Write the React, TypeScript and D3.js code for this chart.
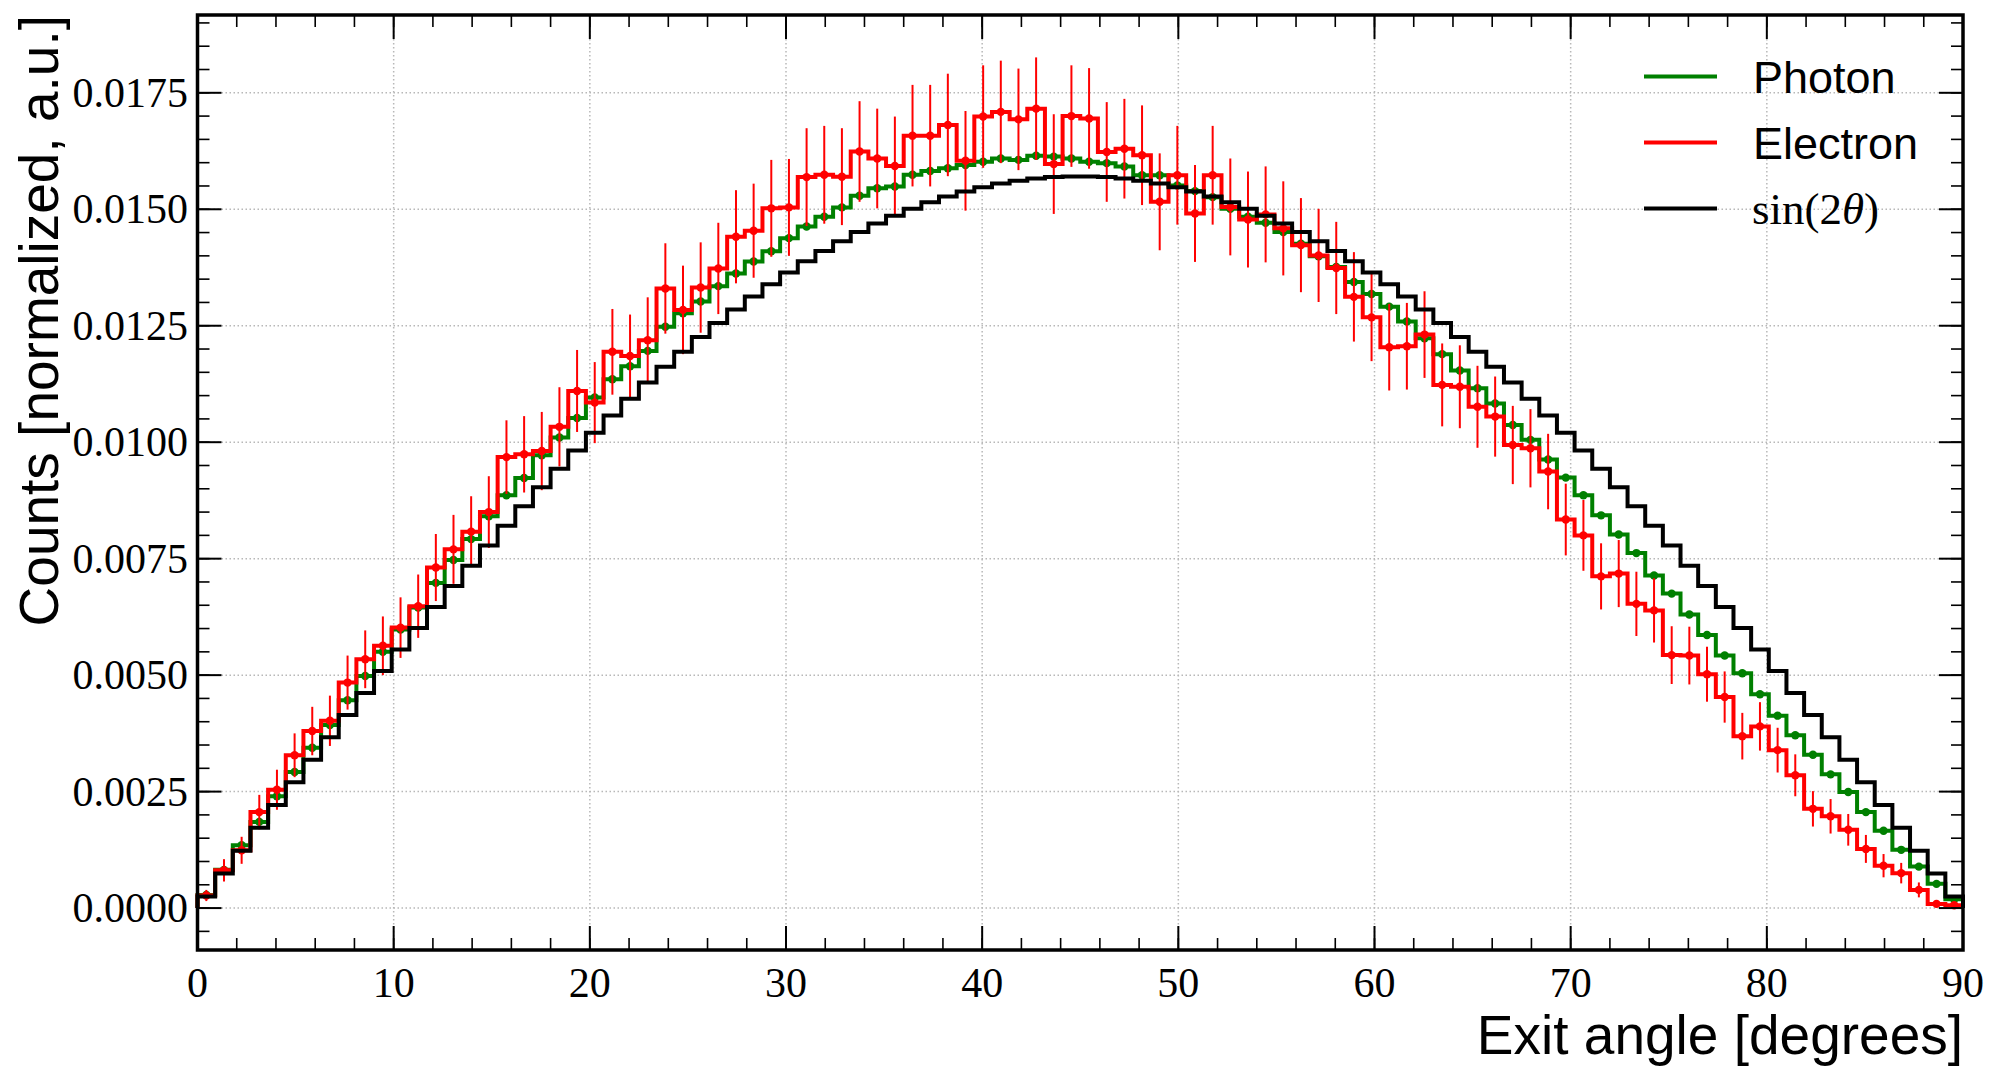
import { useEffect, useRef } from 'react';
import * as d3 from 'd3';

const WIDTH = 2000;
const HEIGHT = 1080;

// 100 bins of 0.9 degrees between 0 and 90
const binEdges = d3.range(101).map(i => +(i * 0.9).toFixed(2));

const photon = [
  0.00028, 0.00082, 0.00135, 0.00185, 0.00240, 0.00292, 0.00344, 0.00393, 0.00446, 0.00498,
  0.00550, 0.00598, 0.00645, 0.00698, 0.00747, 0.00792, 0.00841, 0.00886, 0.00923, 0.00972,
  0.01010, 0.01052, 0.01096, 0.01135, 0.01163, 0.01196, 0.01248, 0.01277, 0.01302, 0.01335,
  0.01362, 0.01388, 0.01410, 0.01438, 0.01463, 0.01484, 0.01504, 0.01529, 0.01545, 0.01549,
  0.01574, 0.01582, 0.01588, 0.01595, 0.01602, 0.01609, 0.01606, 0.01615, 0.01613, 0.01609,
  0.01602, 0.01599, 0.01592, 0.01573, 0.01573, 0.01551, 0.01539, 0.01526, 0.01501, 0.01484,
  0.01471, 0.01451, 0.01426, 0.01399, 0.01376, 0.01344, 0.01318, 0.01291, 0.01259, 0.01223,
  0.01189, 0.01154, 0.01116, 0.01083, 0.01037, 0.01005, 0.00963, 0.00924, 0.00886, 0.00843,
  0.00802, 0.00762, 0.00714, 0.00675, 0.00630, 0.00586, 0.00542, 0.00504, 0.00459, 0.00413,
  0.00371, 0.00329, 0.00287, 0.00249, 0.00206, 0.00166, 0.00125, 0.00089, 0.00052, 0.00019,
];

const electron = [
  0.00027, 0.00081, 0.00124, 0.00206, 0.00254, 0.00328, 0.00380, 0.00402, 0.00484, 0.00534,
  0.00563, 0.00602, 0.00648, 0.00731, 0.00770, 0.00808, 0.00850, 0.00968, 0.00974, 0.00981,
  0.01033, 0.01110, 0.01085, 0.01194, 0.01185, 0.01219, 0.01330, 0.01284, 0.01332, 0.01373,
  0.01441, 0.01454, 0.01502, 0.01504, 0.01569, 0.01574, 0.01570, 0.01624, 0.01609, 0.01593,
  0.01658, 0.01658, 0.01681, 0.01604, 0.01699, 0.01709, 0.01693, 0.01716, 0.01597, 0.01700,
  0.01695, 0.01623, 0.01630, 0.01616, 0.01516, 0.01573, 0.01491, 0.01573, 0.01505, 0.01478,
  0.01489, 0.01459, 0.01423, 0.01401, 0.01374, 0.01312, 0.01268, 0.01204, 0.01206, 0.01231,
  0.01123, 0.01119, 0.01076, 0.01055, 0.00994, 0.00987, 0.00937, 0.00834, 0.00800, 0.00712,
  0.00718, 0.00653, 0.00639, 0.00543, 0.00542, 0.00502, 0.00453, 0.00369, 0.00390, 0.00339,
  0.00285, 0.00213, 0.00197, 0.00168, 0.00127, 0.00091, 0.00075, 0.00039, 0.00009, 0.00006,
];

const electronErr = [
  0.00012, 0.00024, 0.00029, 0.00037, 0.00043, 0.00047, 0.00052, 0.00054, 0.00058, 0.00062,
  0.00063, 0.00065, 0.00068, 0.00072, 0.00074, 0.00076, 0.00077, 0.00079, 0.00082, 0.00084,
  0.00085, 0.00088, 0.00087, 0.00092, 0.00089, 0.00092, 0.00097, 0.00095, 0.00097, 0.00098,
  0.00100, 0.00101, 0.00104, 0.00104, 0.00105, 0.00105, 0.00104, 0.00108, 0.00107, 0.00106,
  0.00109, 0.00109, 0.00110, 0.00107, 0.00110, 0.00110, 0.00109, 0.00110, 0.00107, 0.00109,
  0.00108, 0.00107, 0.00107, 0.00107, 0.00104, 0.00106, 0.00104, 0.00106, 0.00104, 0.00103,
  0.00103, 0.00101, 0.00101, 0.00100, 0.00099, 0.00096, 0.00094, 0.00093, 0.00093, 0.00093,
  0.00089, 0.00089, 0.00088, 0.00086, 0.00084, 0.00084, 0.00081, 0.00077, 0.00076, 0.00071,
  0.00072, 0.00069, 0.00069, 0.00062, 0.00062, 0.00059, 0.00055, 0.00050, 0.00052, 0.00048,
  0.00045, 0.00038, 0.00037, 0.00034, 0.00030, 0.00025, 0.00022, 0.00016, 0.00007, 0.00005,
];

const sin2theta = [
  0.000247, 0.000740, 0.001232, 0.001724, 0.002213, 0.002701, 0.003185, 0.003667, 0.004145, 0.004619,
  0.005088, 0.005552, 0.006011, 0.006464, 0.006911, 0.007350, 0.007783, 0.008207, 0.008624, 0.009032,
  0.009431, 0.009821, 0.010202, 0.010572, 0.010931, 0.011280, 0.011618, 0.011944, 0.012259, 0.012561,
  0.012851, 0.013129, 0.013393, 0.013644, 0.013882, 0.014106, 0.014316, 0.014512, 0.014694, 0.014861,
  0.015013, 0.015151, 0.015274, 0.015382, 0.015474, 0.015551, 0.015613, 0.015660, 0.015691, 0.015706,
  0.015706, 0.015691, 0.015660, 0.015613, 0.015551, 0.015474, 0.015382, 0.015274, 0.015151, 0.015013,
  0.014861, 0.014694, 0.014512, 0.014316, 0.014106, 0.013882, 0.013644, 0.013393, 0.013129, 0.012851,
  0.012561, 0.012259, 0.011944, 0.011618, 0.011280, 0.010931, 0.010572, 0.010202, 0.009821, 0.009431,
  0.009032, 0.008624, 0.008207, 0.007783, 0.007350, 0.006911, 0.006464, 0.006011, 0.005552, 0.005088,
  0.004619, 0.004145, 0.003667, 0.003185, 0.002701, 0.002213, 0.001724, 0.001232, 0.000740, 0.000247,
];

const xMajorTicks = [0, 10, 20, 30, 40, 50, 60, 70, 80, 90];
const xMinorTicks = d3.range(0, 91, 2);
const yMajorTicks = [0, 0.0025, 0.005, 0.0075, 0.01, 0.0125, 0.015, 0.0175];
const yTickLabels = ['0.0000', '0.0025', '0.0050', '0.0075', '0.0100', '0.0125', '0.0150', '0.0175'];
const yMinorTicks = d3.range(-5, 191, 5).map(i => i / 10000);

const legendItems = [
  { label: 'Photon', color: '#008000' },
  { label: 'Electron', color: '#ff0000' },
  { label: 'sin', color: '#000000' },
];

export default function App() {
  const svgRef = useRef<SVGSVGElement>(null);

  useEffect(() => {
    if (!svgRef.current) return;
    const svg = d3.select(svgRef.current);
    svg.selectAll('*').remove();

    const left = 197.5, right = 1963, top = 15, bottom = 950;

    const x = d3.scaleLinear().domain([0, 90]).range([left, right]);
    const y = d3.scaleLinear().domain([-0.0009, 0.01917]).range([bottom, top]);

    const serif = '"Liberation Serif", "DejaVu Serif", serif';
    const sans = '"Liberation Sans", Arial, sans-serif';

    svg.append('rect')
      .attr('width', WIDTH).attr('height', HEIGHT).attr('fill', '#ffffff');

    // Dotted grid at the major ticks
    const grid = svg.append('g')
      .attr('stroke', '#b8b8b8')
      .attr('stroke-width', 1.5)
      .attr('stroke-dasharray', '1.5,2.5');
    grid.selectAll('.gx')
      .data(xMajorTicks.slice(1, -1))
      .enter().append('line')
      .attr('x1', d => x(d)).attr('x2', d => x(d))
      .attr('y1', top).attr('y2', bottom);
    grid.selectAll('.gy')
      .data(yMajorTicks)
      .enter().append('line')
      .attr('x1', left).attr('x2', right)
      .attr('y1', d => y(d)).attr('y2', d => y(d));

    // Step histogram outline, closed to zero at both ends
    const stepPath = (values: number[]) => {
      const pts: [number, number][] = [[binEdges[0], 0]];
      values.forEach((v, i) => {
        pts.push([binEdges[i], v]);
        pts.push([binEdges[i + 1], v]);
      });
      pts.push([binEdges[binEdges.length - 1], 0]);
      return d3.line<[number, number]>()
        .x(d => x(d[0]))
        .y(d => y(d[1]))(pts);
    };
    const centers = binEdges.slice(0, -1).map((e, i) => (e + binEdges[i + 1]) / 2);

    // Photon
    svg.append('path')
      .attr('d', stepPath(photon))
      .attr('fill', 'none')
      .attr('stroke', '#008000')
      .attr('stroke-width', 4)
      .attr('stroke-linejoin', 'miter');
    svg.append('g')
      .selectAll('circle')
      .data(photon)
      .enter().append('circle')
      .attr('cx', (d, i) => x(centers[i]))
      .attr('cy', d => y(d))
      .attr('r', 4.2)
      .attr('fill', '#008000');

    // Electron
    svg.append('path')
      .attr('d', stepPath(electron))
      .attr('fill', 'none')
      .attr('stroke', '#ff0000')
      .attr('stroke-width', 4)
      .attr('stroke-linejoin', 'miter');
    svg.append('g')
      .selectAll('line')
      .data(electron)
      .enter().append('line')
      .attr('x1', (d, i) => x(centers[i]))
      .attr('x2', (d, i) => x(centers[i]))
      .attr('y1', (d, i) => y(d - electronErr[i]))
      .attr('y2', (d, i) => y(d + electronErr[i]))
      .attr('stroke', '#ff0000')
      .attr('stroke-width', 2);
    svg.append('g')
      .selectAll('circle')
      .data(electron)
      .enter().append('circle')
      .attr('cx', (d, i) => x(centers[i]))
      .attr('cy', d => y(d))
      .attr('r', 4.2)
      .attr('fill', '#ff0000');

    // sin(2 theta)
    svg.append('path')
      .attr('d', stepPath(sin2theta))
      .attr('fill', 'none')
      .attr('stroke', '#000000')
      .attr('stroke-width', 4)
      .attr('stroke-linejoin', 'miter');

    // Frame
    svg.append('rect')
      .attr('x', left).attr('y', top)
      .attr('width', right - left).attr('height', bottom - top)
      .attr('fill', 'none')
      .attr('stroke', '#000000')
      .attr('stroke-width', 3.5);

    // Inward ticks on all four sides
    const ticks = svg.append('g').attr('stroke', '#000000');
    const addXTicks = (vals: number[], len: number, w: number) => {
      vals.forEach(v => {
        ticks.append('line')
          .attr('x1', x(v)).attr('x2', x(v))
          .attr('y1', bottom).attr('y2', bottom - len)
          .attr('stroke-width', w);
        ticks.append('line')
          .attr('x1', x(v)).attr('x2', x(v))
          .attr('y1', top).attr('y2', top + len)
          .attr('stroke-width', w);
      });
    };
    const addYTicks = (vals: number[], len: number, w: number) => {
      vals.forEach(v => {
        ticks.append('line')
          .attr('x1', left).attr('x2', left + len)
          .attr('y1', y(v)).attr('y2', y(v))
          .attr('stroke-width', w);
        ticks.append('line')
          .attr('x1', right).attr('x2', right - len)
          .attr('y1', y(v)).attr('y2', y(v))
          .attr('stroke-width', w);
      });
    };
    addXTicks(xMinorTicks, 12, 1.6);
    addXTicks(xMajorTicks, 24, 2);
    addYTicks(yMinorTicks, 12, 1.6);
    addYTicks(yMajorTicks, 24, 2);

    // Tick labels
    svg.append('g')
      .selectAll('text')
      .data(xMajorTicks)
      .enter().append('text')
      .attr('x', d => x(d))
      .attr('y', 997)
      .attr('text-anchor', 'middle')
      .style('font-family', serif)
      .style('font-size', '42px')
      .text(d => String(d));
    svg.append('g')
      .selectAll('text')
      .data(yMajorTicks)
      .enter().append('text')
      .attr('x', 188)
      .attr('y', d => y(d) + 14)
      .attr('text-anchor', 'end')
      .style('font-family', serif)
      .style('font-size', '42px')
      .text((d, i) => yTickLabels[i]);

    // Axis labels
    svg.append('text')
      .attr('x', right)
      .attr('y', 1054)
      .attr('text-anchor', 'end')
      .style('font-family', sans)
      .style('font-size', '55px')
      .text('Exit angle [degrees]');
    svg.append('text')
      .attr('transform', `translate(58,${top}) rotate(-90)`)
      .attr('text-anchor', 'end')
      .style('font-family', sans)
      .style('font-size', '55px')
      .text('Counts [normalized, a.u.]');

    // Legend
    const legend = svg.append('g');
    legendItems.forEach((item, i) => {
      const ly = 76.5 + i * 66;
      legend.append('line')
        .attr('x1', 1644).attr('x2', 1717)
        .attr('y1', ly).attr('y2', ly)
        .attr('stroke', item.color)
        .attr('stroke-width', 4);
      if (item.label === 'sin') {
        const t = legend.append('text')
          .attr('x', 1752)
          .attr('y', ly + 15)
          .style('font-family', serif)
          .style('font-size', '45px');
        t.append('tspan').text('sin(2');
        t.append('tspan').style('font-style', 'italic').text('θ');
        t.append('tspan').text(')');
      } else {
        legend.append('text')
          .attr('x', 1753)
          .attr('y', ly + 16.5)
          .style('font-family', sans)
          .style('font-size', '45px')
          .text(item.label);
      }
    });
  }, []);

  return (
    <svg
      ref={svgRef}
      width={WIDTH}
      height={HEIGHT}
      style={{ position: 'absolute', left: 0, top: 0 }}
    />
  );
}
